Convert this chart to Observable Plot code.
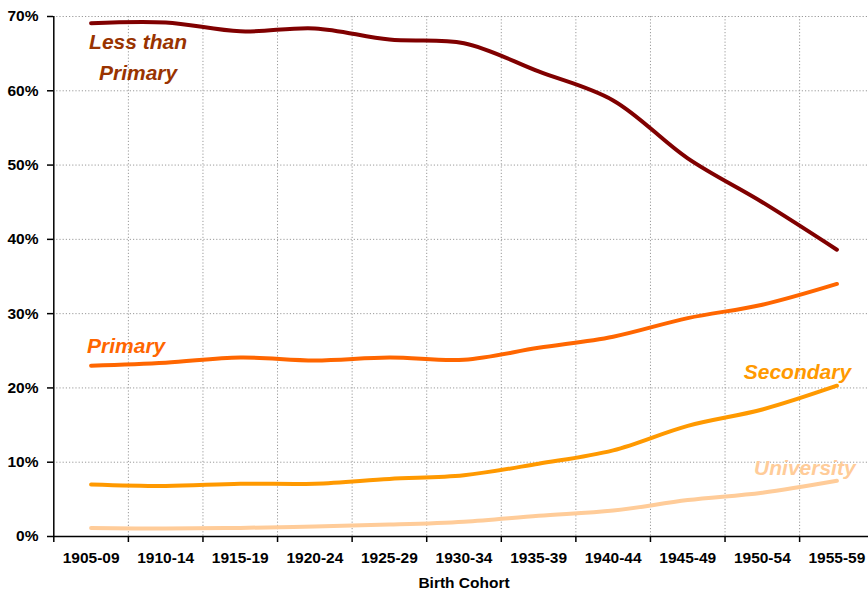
<!DOCTYPE html>
<html>
<head>
<meta charset="utf-8">
<script src="https://cdn.jsdelivr.net/npm/d3@7"></script>
<script src="https://cdn.jsdelivr.net/npm/@observablehq/plot@0.6"></script>
<style>
  html, body { margin: 0; padding: 0; background: #fff; overflow: hidden; }
</style>
</head>
<body>
<div id="chart"></div>
<script>
// ---- data ----
const cohorts = ["1905-09","1910-14","1915-19","1920-24","1925-29","1930-34","1935-39","1940-44","1945-49","1950-54","1955-59"];
const lessThanPrimary = [69.1, 69.2, 68.0, 68.4, 66.9, 66.4, 62.6, 58.7, 50.9, 45.0, 38.6];
const primary         = [23.0, 23.4, 24.1, 23.7, 24.1, 23.8, 25.4, 26.9, 29.4, 31.2, 34.0];
const secondary       = [7.0, 6.8, 7.1, 7.1, 7.75, 8.25, 9.8, 11.6, 14.9, 17.1, 20.3];
const university      = [1.15, 1.07, 1.16, 1.35, 1.6, 2.0, 2.8, 3.5, 4.9, 5.9, 7.5];
const seriesNames = ["Less than Primary", "Primary", "Secondary", "University"];
const yTicks = [0, 10, 20, 30, 40, 50, 60, 70];
const xLabel = "Birth Cohort";

// series label annotations (text, and anchor in data units)
const labelText = ["Less than\nPrimary", "Primary", "Secondary", "University"];
const labelAtIndex = [0.63, 0.47, 9.47, 9.57];
const labelAtValue = [64.9, 26.05, 22.5, 9.6];

// ---- styles ----
const seriesColors = ["#800000", "#ff6600", "#ff9900", "#ffcc99"];
const labelColors  = ["#993300", "#ff6600", "#ff9900", "#ffcc99"];
const gridStyle = {stroke: "#9a9a9a", strokeOpacity: 1, strokeDasharray: "1.2,2", strokeWidth: 1};

const seriesValues = [lessThanPrimary, primary, secondary, university];
const rows = seriesValues.flatMap((vals, s) => vals.map((v, i) => ({i, value: v, series: seriesNames[s]})));
const centers = d3.range(cohorts.length);
const boundaries = d3.range(cohorts.length + 1).map(k => k - 0.5);

const labelMarks = labelText.map((t, k) =>
  Plot.text([k], {
    x: d => labelAtIndex[d],
    y: d => labelAtValue[d],
    text: d => labelText[d],
    fill: labelColors[k],
    fontSize: 21,
    fontWeight: "bold",
    fontStyle: "italic",
    textAnchor: "middle",
    lineAnchor: "middle",
    lineHeight: 1.476
  })
);

const chart = Plot.plot({
  width: 868,
  height: 592,
  marginLeft: 53,
  marginRight: 0,
  marginTop: 16,
  marginBottom: 56,
  style: {
    fontFamily: "'Liberation Sans', Arial, Helvetica, sans-serif",
    fontSize: "15.5px",
    fontWeight: "bold",
    color: "#000",
    background: "#fff",
    overflow: "visible"
  },
  x: {type: "linear", domain: [-0.5, cohorts.length - 0.5], range: [53.3, 873.7]},
  y: {domain: [0, 70]},
  color: {domain: seriesNames, range: seriesColors},
  marks: [
    Plot.gridY(yTicks.filter(d => d > 0), gridStyle),
    Plot.gridX(boundaries.slice(1), gridStyle),
    Plot.line(rows, {
      x: "i", y: "value", z: "series", stroke: "series",
      strokeWidth: 4, curve: "catmull-rom", strokeLinecap: "round", strokeLinejoin: "round"
    }),
    Plot.ruleX([-0.5], {stroke: "#000", strokeWidth: 1.5}),
    Plot.ruleY([0], {stroke: "#000", strokeWidth: 1.5}),
    Plot.axisY(yTicks, {
      tickSize: 6, tickPadding: 9, tickFormat: d => d + "%",
      stroke: "#000", strokeWidth: 1.5, fill: "#000", label: null
    }),
    Plot.axisX(boundaries, {
      tickSize: 6, tickFormat: () => "", stroke: "#000", strokeWidth: 1.5, label: null
    }),
    Plot.axisX(centers, {
      tickSize: 0, tickPadding: 15, tickFormat: i => cohorts[i], fill: "#000", label: null
    }),
    Plot.text([xLabel], {
      x: () => (cohorts.length - 1) / 2,
      text: d => d,
      frameAnchor: "bottom",
      dy: 47,
      lineAnchor: "middle",
      fontSize: 15.5,
      fontWeight: "bold",
      fill: "#000"
    }),
    ...labelMarks
  ]
});

document.getElementById("chart").appendChild(chart);
</script>
</body>
</html>
